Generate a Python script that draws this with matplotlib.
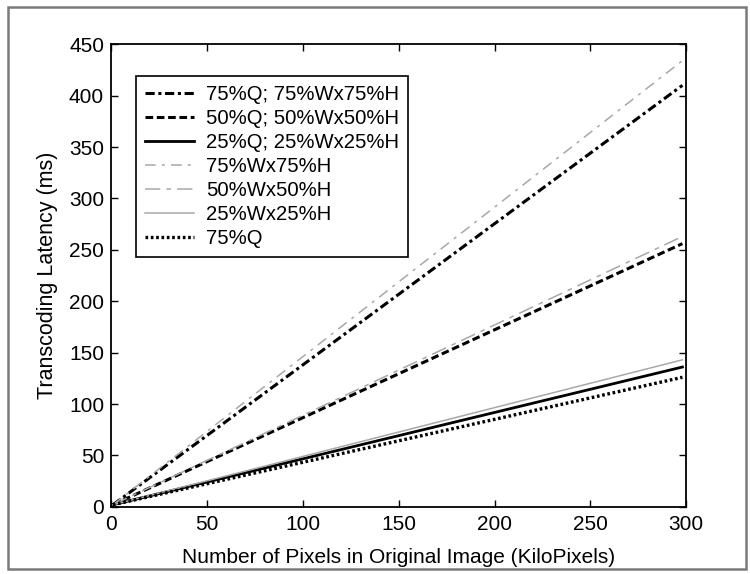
import numpy as np
import matplotlib.pyplot as plt
from matplotlib.patches import Rectangle

plt.rcParams['font.family'] = ['Liberation Sans', 'DejaVu Sans']

# Original image size (KiloPixels): first and last measured point
pixels = [1, 298]

# Transcoding latency (ms) for each setting at those sizes
lat_q75_wh75 = [2, 410]
lat_q50_wh50 = [2, 256]
lat_q25_wh25 = [2, 136]
lat_wh75 = [2, 434]
lat_wh50 = [2, 263]
lat_wh25 = [2, 143]
lat_q75 = [2, 126]

labels = ["75%Q; 75%Wx75%H", "50%Q; 50%Wx50%H", "25%Q; 25%Wx25%H",
          "75%Wx75%H", "50%Wx50%H", "25%Wx25%H", "75%Q"]

series = [lat_q75_wh75, lat_q50_wh50, lat_q25_wh25,
          lat_wh75, lat_wh50, lat_wh25, lat_q75]

styles = [
    dict(color='black', lw=2.2, ls=(0, (3, 1.2, 1, 1.2))),
    dict(color='black', lw=2.2, ls=(0, (2.5, 1.2))),
    dict(color='black', lw=2.0, ls='-'),
    dict(color='#a8a8a8', lw=1.1, ls=(0, (7, 4, 2, 4))),
    dict(color='#a8a8a8', lw=1.1, ls=(0, (10, 4, 3, 4))),
    dict(color='#a8a8a8', lw=1.1, ls='-'),
    dict(color='black', lw=2.4, ls=(0, (0.8, 0.8))),
]

fig = plt.figure(figsize=(7.5, 5.74), dpi=100)
ax = fig.add_axes([0.148, 0.117, 0.767, 0.806])

for y, lab, st in zip(series, labels, styles):
    ax.plot(pixels, y, label=lab, **st)

ax.set_xlim(0, 300)
ax.set_ylim(0, 450)
ax.set_xticks(np.arange(0, 301, 50))
ax.set_yticks(np.arange(0, 451, 50))
ax.tick_params(direction='in', length=5, width=1, labelsize=15,
               top=True, right=True, pad=6)
ax.tick_params(axis='y', pad=5)
for sp in ax.spines.values():
    sp.set_linewidth(1.3)

ax.set_xlabel("Number of Pixels in Original Image (KiloPixels)", fontsize=15, labelpad=10)
ax.set_ylabel("Transcoding Latency (ms)", fontsize=15.5, labelpad=8)

leg = ax.legend(loc='upper left', bbox_to_anchor=(0.043, 0.932), fontsize=14.6,
                fancybox=False, framealpha=1, edgecolor='black',
                handlelength=2.4, labelspacing=0.25, borderpad=0.45,
                handletextpad=0.6, borderaxespad=0)
leg.get_frame().set_linewidth(1.2)

# grey frame round the whole figure
fig.patches.append(Rectangle((0.01, 0.008), 0.984, 0.98, transform=fig.transFigure,
                             fill=False, edgecolor='#7a7a7a', lw=1.8))

fig.savefig("out.png", dpi=100)
